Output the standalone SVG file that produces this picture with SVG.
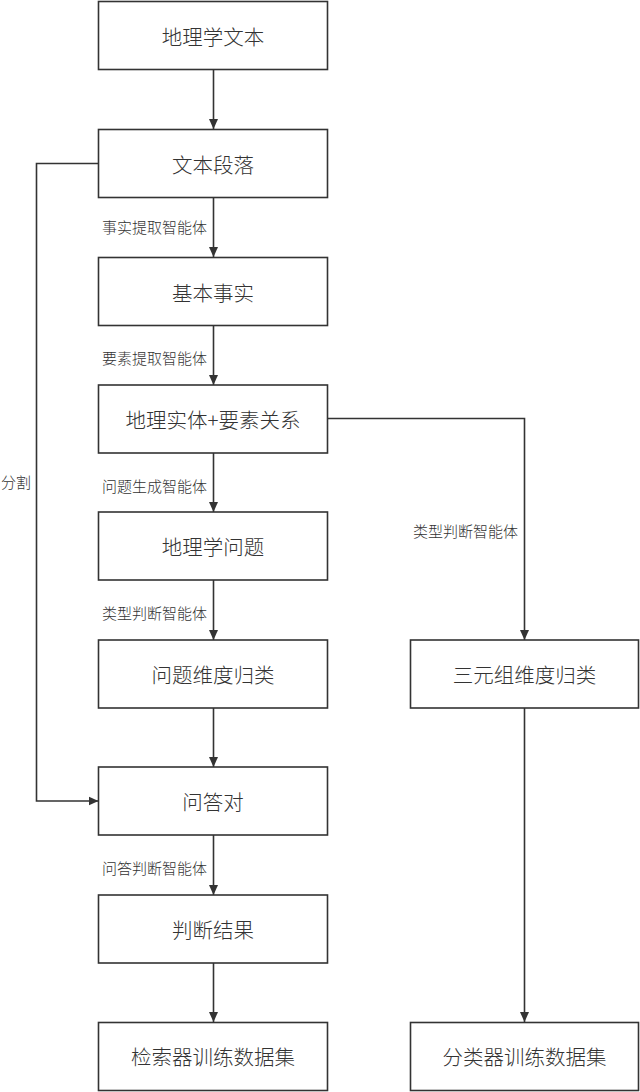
<svg xmlns="http://www.w3.org/2000/svg" width="640" height="1092" viewBox="0 0 640 1092">
<defs>
<style>
.box{fill:#ffffff;stroke:#333333;stroke-width:1.6}
.t{font-family:"Noto Sans CJK SC","Noto Sans",sans-serif;font-size:20.5px;font-weight:300;fill:#333333;text-anchor:middle;dominant-baseline:central}
.lbl{font-family:"Noto Sans CJK SC","Noto Sans",sans-serif;font-size:15px;font-weight:300;fill:#333333;dominant-baseline:central}
.c{fill:none;stroke:#333333;stroke-width:1.6}
</style>
<marker id="ah" viewBox="0 0 10 10" refX="10" refY="5" markerWidth="10" markerHeight="10" markerUnits="userSpaceOnUse" orient="auto">
<path d="M0,0.5 L10,5 L0,9.5 Z" fill="#333333"/>
</marker>
</defs>
<rect width="640" height="1092" fill="#ffffff"/>
<g id="connectors">
<line class="c" x1="213.5" y1="70" x2="213.5" y2="129" marker-end="url(#ah)"/>
<line class="c" x1="213.5" y1="197" x2="213.5" y2="257" marker-end="url(#ah)"/>
<line class="c" x1="213.5" y1="325" x2="213.5" y2="385" marker-end="url(#ah)"/>
<line class="c" x1="213.5" y1="453" x2="213.5" y2="512" marker-end="url(#ah)"/>
<line class="c" x1="213.5" y1="580" x2="213.5" y2="640" marker-end="url(#ah)"/>
<line class="c" x1="213.5" y1="708" x2="213.5" y2="767" marker-end="url(#ah)"/>
<line class="c" x1="213.5" y1="835" x2="213.5" y2="895" marker-end="url(#ah)"/>
<line class="c" x1="213.5" y1="963" x2="213.5" y2="1022" marker-end="url(#ah)"/>
<polyline class="c" points="98.5,163.5 36.5,163.5 36.5,801 98.5,801" marker-end="url(#ah)"/>
<polyline class="c" points="327.5,418.5 524.5,418.5 524.5,640" marker-end="url(#ah)"/>
<line class="c" x1="524.5" y1="708" x2="524.5" y2="1022" marker-end="url(#ah)"/>
<text class="lbl" x="207" y="226" text-anchor="end">事实提取智能体</text>
<text class="lbl" x="207" y="357" text-anchor="end">要素提取智能体</text>
<text class="lbl" x="207" y="485" text-anchor="end">问题生成智能体</text>
<text class="lbl" x="207" y="612" text-anchor="end">类型判断智能体</text>
<text class="lbl" x="207" y="867" text-anchor="end">问答判断智能体</text>
<text class="lbl" x="518" y="530" text-anchor="end">类型判断智能体</text>
<text class="lbl" x="16" y="481" text-anchor="middle">分割</text>
</g>
<g id="n1"><rect class="box" x="98.5" y="1.5" width="229" height="68"/><text class="t" x="213" y="36">地理学文本</text></g>
<g id="n2"><rect class="box" x="98.5" y="129.5" width="229" height="68"/><text class="t" x="213" y="164">文本段落</text></g>
<g id="n3"><rect class="box" x="98.5" y="257.5" width="229" height="68"/><text class="t" x="213" y="292">基本事实</text></g>
<g id="n4"><rect class="box" x="98.5" y="385" width="229" height="68"/><text class="t" x="213" y="419">地理实体+要素关系</text></g>
<g id="n5"><rect class="box" x="98.5" y="512" width="229" height="68"/><text class="t" x="213" y="546">地理学问题</text></g>
<g id="n6"><rect class="box" x="98.5" y="640" width="229" height="68"/><text class="t" x="213" y="674">问题维度归类</text></g>
<g id="n7"><rect class="box" x="98.5" y="767" width="229" height="68"/><text class="t" x="213" y="801">问答对</text></g>
<g id="n8"><rect class="box" x="98.5" y="895" width="229" height="68"/><text class="t" x="213" y="929">判断结果</text></g>
<g id="n9"><rect class="box" x="98.5" y="1022.5" width="229" height="68"/><text class="t" x="213" y="1056">检索器训练数据集</text></g>
<g id="n10"><rect class="box" x="410.5" y="640" width="228" height="68"/><text class="t" x="524.5" y="674">三元组维度归类</text></g>
<g id="n11"><rect class="box" x="410.5" y="1022.5" width="228" height="68"/><text class="t" x="524.5" y="1056">分类器训练数据集</text></g>
</svg>
